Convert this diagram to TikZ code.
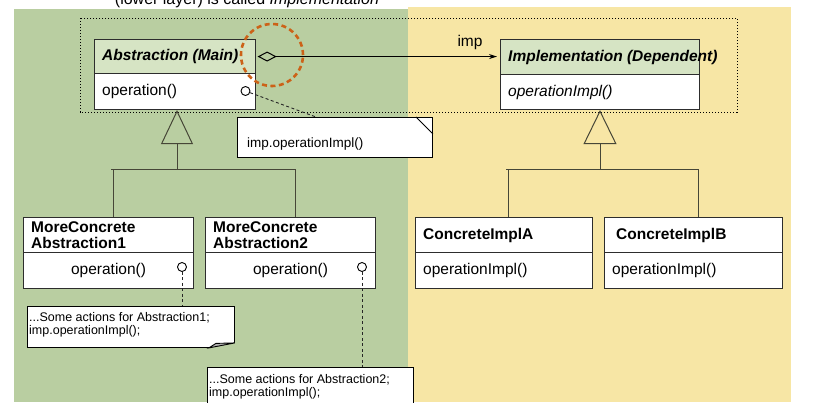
\documentclass[tikz,border=0pt]{standalone}
\usepackage{fontspec}
\setmainfont{Liberation Sans}
\usetikzlibrary{arrows.meta}
\definecolor{bggreen}{RGB}{185,206,161}
\definecolor{bgyellow}{RGB}{247,230,165}
\definecolor{hdrgreen}{RGB}{214,228,196}
\definecolor{boxc}{RGB}{45,45,45}
\definecolor{linec}{RGB}{70,70,55}
\definecolor{hlc}{RGB}{204,98,24}
\newcommand\myfs[1]{\fontsize{#1}{#1}\selectfont}
\begin{document}
\begin{tikzpicture}[x=1pt,y=-1pt,
  box/.style={draw=boxc, line width=1.1pt, fill=white, inner sep=0, anchor=north west},
  lbl/.style={anchor=west, inner sep=0, font=\myfs{15.5}},
  notebox/.style={draw=black, line width=0.9pt, fill=white, inner sep=0, anchor=north west},
  notetxt/.style={anchor=west, inner sep=0, align=left},
  port/.style={circle, draw=black, fill=white, line width=0.9pt, minimum size=9pt, inner sep=0},
  conn/.style={draw=linec, line width=1pt},
  dashconn/.style={draw=black!85, line width=0.9pt, dash pattern=on 3pt off 2.5pt}]
\useasboundingbox (0,0) rectangle (814,402);
\clip (0,0) rectangle (814,402);
% backgrounds
\fill[bggreen] (14,9) rectangle (408,402);
\fill[bgyellow] (408,7) rectangle (791,402);
% cut-off title (the reference shows only its lower part)
\node[anchor=base, inner sep=0, font=\myfs{16}] (ttl) at (247,4) {(lower layer) is called \textit{Implementation}};
% dotted frame
\draw[black, line width=1pt, dash pattern=on 1.4pt off 1.6pt] (80,18) rectangle (737,112);

% Abstraction
\node[box, fill=hdrgreen, minimum width=161pt, minimum height=34pt] (absh) at (94,39) {};
\node[box, minimum width=161pt, minimum height=36pt] (absb) at (94,73) {};
\node[lbl, font=\myfs{15.5}\bfseries\itshape] (abshT) at ([xshift=8pt]absh.west) {Abstraction (Main)};
\node[lbl] (absbT) at ([xshift=8pt]absb.west) {operation()};
\node[port] (pa) at (245.5,91) {};

% Implementation
\node[box, fill=hdrgreen, minimum width=199pt, minimum height=35pt] (imph) at (500,39) {};
\node[box, minimum width=199pt, minimum height=35pt] (impb) at (500,74) {};
\node[lbl, font=\myfs{15.5}\bfseries\itshape] (imphT) at ([xshift=8pt]imph.west) {Implementation (Dependent)};
\node[lbl, font=\myfs{15.5}\itshape] (impbT) at ([xshift=8pt]impb.west) {operationImpl()};

% aggregation
\draw[line width=1pt, {Diamond[open,length=19pt,width=10pt]}-{Stealth[length=8pt,width=5pt]}, shorten <=1.5pt, shorten >=3pt]
  (absh.east) -- (absh.east -| imph.west);
\node[font=\myfs{15.5}, inner sep=0] (implbl) at (470,42) {imp};

% note 1
\node[notebox, minimum width=195pt, minimum height=40pt] (n1) at (237,117) {};
\draw[line width=0.9pt] ([xshift=-17pt]n1.north east) -- ([yshift=-17pt]n1.north east);
\node[notetxt, font=\myfs{13.5}] (n1T) at ([xshift=10pt,yshift=-7pt]n1.west) {imp.operationImpl()};
\coordinate (n1t) at ([xshift=79pt]n1.north west);
\draw[dashconn] (pa) -- (n1t);

% MoreConcrete Abstraction1
\node[box, minimum width=170pt, minimum height=35pt] (m1h) at (23,217) {};
\node[box, minimum width=170pt, minimum height=36pt] (m1b) at (23,252) {};
\node[lbl, align=left, font=\myfs{15.5}\bfseries] (m1hT) at ([xshift=8pt]m1h.west) {\baselineskip=17pt MoreConcrete\\Abstraction1};
\node[inner sep=0, font=\myfs{15.5}] (m1bT) at (m1b.center) {operation()};
\node[port] (p1) at (182,267) {};

% MoreConcrete Abstraction2
\node[box, minimum width=170pt, minimum height=35pt] (m2h) at (205,217) {};
\node[box, minimum width=170pt, minimum height=36pt] (m2b) at (205,252) {};
\node[lbl, align=left, font=\myfs{15.5}\bfseries] (m2hT) at ([xshift=8pt]m2h.west) {\baselineskip=17pt MoreConcrete\\Abstraction2};
\node[inner sep=0, font=\myfs{15.5}] (m2bT) at (m2b.center) {operation()};
\node[port] (p2) at (362,267) {};

% ConcreteImplA
\node[box, minimum width=177pt, minimum height=35pt] (cah) at (415,217) {};
\node[box, minimum width=177pt, minimum height=36pt] (cab) at (415,252) {};
\node[lbl, font=\myfs{15.5}\bfseries] (cahT) at ([xshift=8pt]cah.west) {ConcreteImplA};
\node[lbl] (cabT) at ([xshift=8pt]cab.west) {operationImpl()};

% ConcreteImplB
\node[box, minimum width=178pt, minimum height=35pt] (cbh) at (604,217) {};
\node[box, minimum width=178pt, minimum height=36pt] (cbb) at (604,252) {};
\node[lbl, font=\myfs{15.5}\bfseries] (cbhT) at ([xshift=12pt]cbh.west) {ConcreteImplB};
\node[lbl] (cbbT) at ([xshift=8pt]cbb.west) {operationImpl()};

% inheritance left
\coordinate (jA) at (177,169);
\coordinate (jAl) at (111,169);
\coordinate (jAr) at ([xshift=5pt]m2h.north |- jA);
\draw[conn, -{Triangle[open, length=34pt, width=32pt, line width=1pt]}] (jA) -- (jA |- absb.south);
\draw[conn] (jAl) -- (jAr);
\draw[conn] ([xshift=5pt]m1h.north |- jA) -- ([xshift=5pt]m1h.north);
\draw[conn] (jAr) -- ([xshift=5pt]m2h.north);

% inheritance right
\coordinate (jB) at (600,169);
\coordinate (jBl) at (506,169);
\coordinate (jBr) at ([xshift=5pt]cbh.north |- jB);
\draw[conn, -{Triangle[open, length=34pt, width=33pt, line width=1pt]}] (jB) -- (jB |- impb.south);
\draw[conn] (jBl) -- (jBr);
\draw[conn] ([xshift=4.5pt]cah.north |- jB) -- ([xshift=4.5pt]cah.north);
\draw[conn] (jBr) -- ([xshift=5pt]cbh.north);

% note 2
\node[notebox, minimum width=207pt, minimum height=41pt] (n2) at (27,306) {};
\fill[bggreen] ([xshift=-26pt]n2.south east) -- (n2.south east) -- ([yshift=5pt]n2.south east) -- cycle;
\draw[line width=0.9pt, fill=gray!60] ([xshift=-26pt]n2.south east) -- ([xshift=-19pt,yshift=4.5pt]n2.south east) -- ([yshift=5pt]n2.south east) -- cycle;
\node[notetxt, font=\myfs{12.5}] (n2T) at ([xshift=2pt,yshift=2pt]n2.west) {\baselineskip=15.5pt ...Some actions for Abstraction1;\\imp.operationImpl();};
\draw[dashconn] (p1) -- (p1 |- n2.north);

% note 3
\node[notebox, minimum width=206pt, minimum height=50pt] (n3) at (207,367) {};
\node[notetxt, font=\myfs{12.5}] (n3T) at ([xshift=2pt,yshift=5.5pt]n3.west) {\baselineskip=15.5pt ...Some actions for Abstraction2;\\imp.operationImpl();};
\draw[dashconn] (p2) -- (p2 |- n3.north);

% highlight circle
\draw[hlc, line width=2.6pt, dash pattern=on 5pt off 3.5pt] (272,55) circle[radius=31pt];
\end{tikzpicture}
\end{document}
